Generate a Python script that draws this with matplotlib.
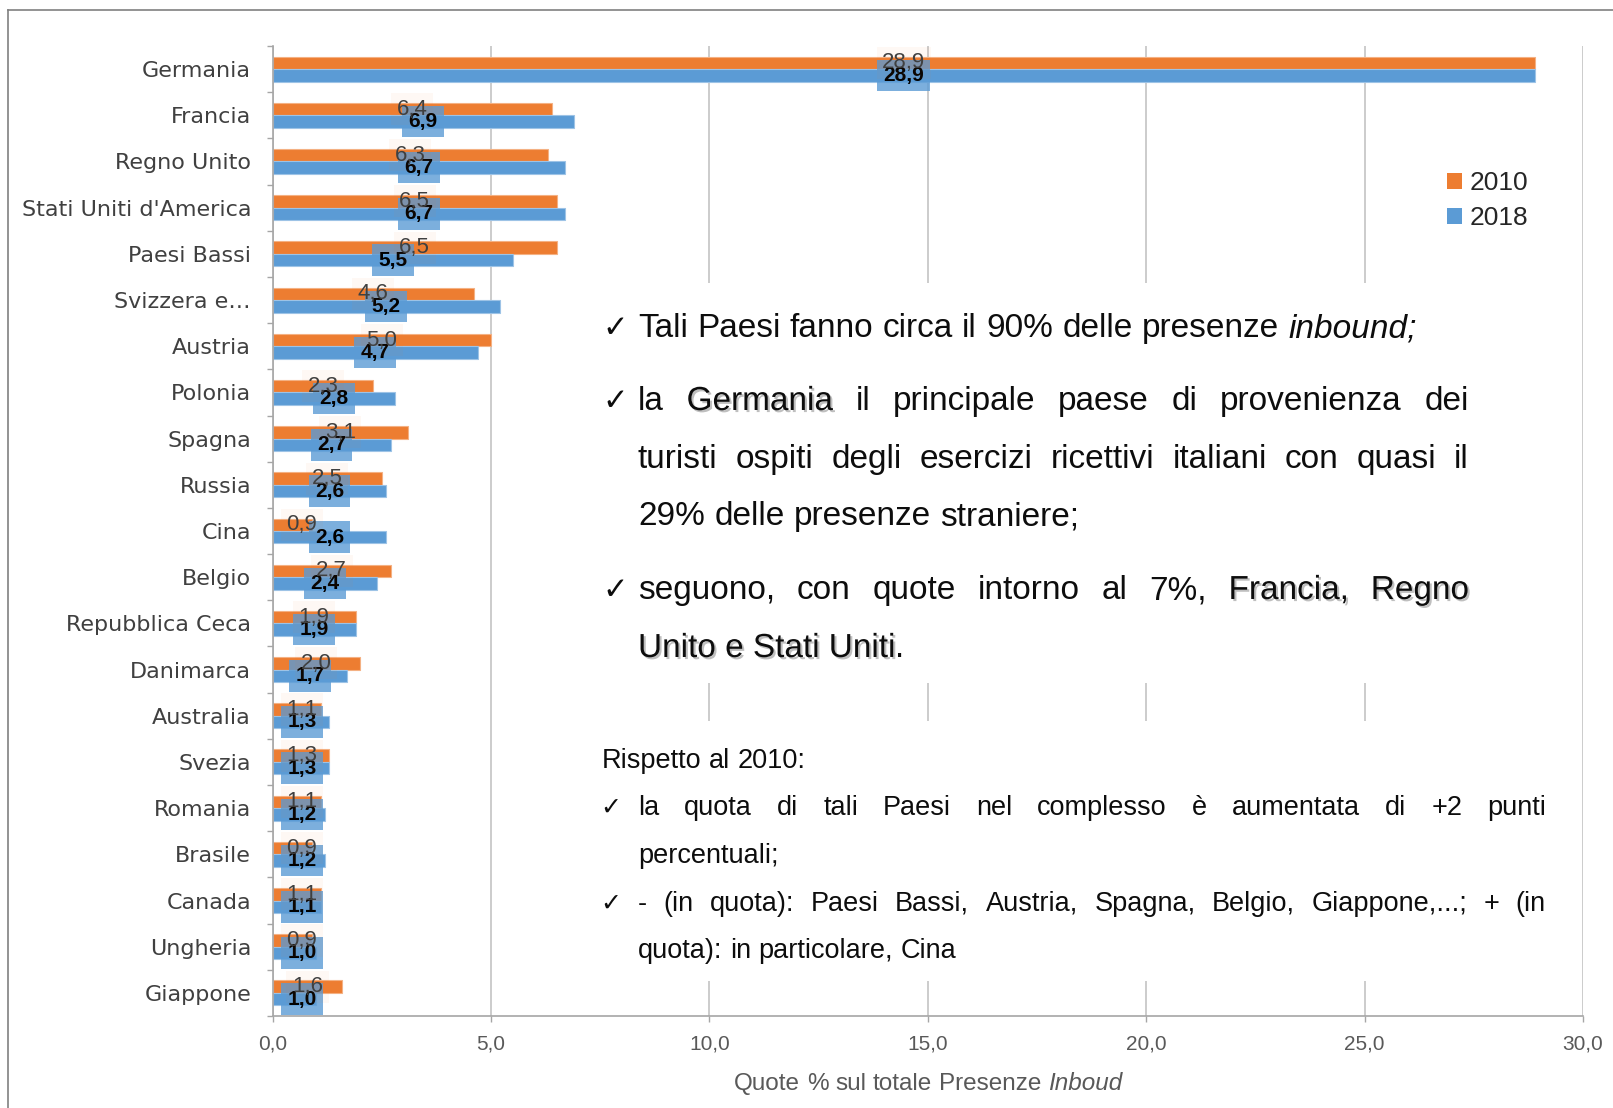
import matplotlib
matplotlib.use('Agg')
import matplotlib.pyplot as plt
import matplotlib.patheffects as pe
from matplotlib.patches import Rectangle
from matplotlib.lines import Line2D
import numpy as np

# data
countries = ['Germania', 'Francia', 'Regno Unito', "Stati Uniti d'America", 'Paesi Bassi',
             'Svizzera e…', 'Austria', 'Polonia', 'Spagna', 'Russia', 'Cina', 'Belgio',
             'Repubblica Ceca', 'Danimarca', 'Australia', 'Svezia', 'Romania', 'Brasile',
             'Canada', 'Ungheria', 'Giappone']
v2010 = [28.9, 6.4, 6.3, 6.5, 6.5, 4.6, 5.0, 2.3, 3.1, 2.5, 0.9, 2.7, 1.9, 2.0, 1.1, 1.3, 1.1, 0.9, 1.1, 0.9, 1.6]
v2018 = [28.9, 6.9, 6.7, 6.7, 5.5, 5.2, 4.7, 2.8, 2.7, 2.6, 2.6, 2.4, 1.9, 1.7, 1.3, 1.3, 1.2, 1.2, 1.1, 1.0, 1.0]
years = ['2010', '2018']
xticks = [0, 5, 10, 15, 20, 25, 30]
xlabel_runs = [('Quote % sul totale Presenze ', 'n'), ('Inboud', 'i')]

c2010 = '#ED7D31'
c2018 = '#5B9BD5'

W, H = 1613, 1108
fig = plt.figure(figsize=(W / 100, H / 100), dpi=100)
renderer = fig.canvas.get_renderer()


def px(x, y):
    return (x / W, 1 - y / H)


def fmt(v):
    return f'{v:.1f}'.replace('.', ',')


# ---- chart
ax = fig.add_axes([272.6 / W, 1 - 1016 / H, (1583 - 272.6) / W, (1016 - 46) / H])
y = np.arange(len(countries))
bh = 0.27
ax.barh(y - bh / 2, v2010, height=bh, color=c2010, edgecolor='#F4B183', linewidth=0.8, zorder=2)
ax.barh(y + bh / 2, v2018, height=bh, color=c2018, edgecolor='#9DC3E6', linewidth=0.8, zorder=2)

ax.set_xlim(0, 30)
ax.set_ylim(len(countries) - 0.5, -0.5)
ax.set_xticks(xticks)
ax.set_xticklabels([fmt(t) for t in xticks], family='Liberation Sans')
ax.set_yticks(y)
ax.set_yticklabels(countries, family='DejaVu Sans')
ax.set_yticks(np.arange(len(countries) + 1) - 0.5, minor=True)
ax.tick_params(axis='y', which='major', length=0, pad=15.5, labelsize=16, labelcolor='#404040')
ax.tick_params(axis='y', which='minor', length=4.5, color='#A6A6A6', width=1)
ax.tick_params(axis='x', length=4.5, color='#A6A6A6', width=1, pad=9, labelsize=15, labelcolor='#595959')
ax.grid(axis='x', color='#BFBFBF', linewidth=1.1)
ax.set_axisbelow(True)
for s in ['top', 'right']:
    ax.spines[s].set_visible(False)
for s in ['left', 'bottom']:
    ax.spines[s].set_color('#A6A6A6')
    ax.spines[s].set_linewidth(1.2)

# data labels (Excel keeps them inside the plot area)
xmin_lab = 0.67
for i, b in enumerate(v2018):
    ax.text(max(b / 2, xmin_lab), i + bh / 2, fmt(b), ha='center', va='center', fontsize=15,
            family='Liberation Sans', color='black', fontweight='bold', zorder=4,
            bbox=dict(boxstyle='square,pad=0.3', fc=c2018, alpha=0.8, ec='none'))
for i, a in enumerate(v2010):
    ax.text(max(a / 2, xmin_lab), i - bh / 2, fmt(a), ha='center', va='center', fontsize=16,
            family='Liberation Sans', color='#404040', zorder=5,
            bbox=dict(boxstyle='square,pad=0.25', fc=c2010, alpha=0.05, ec='none'))

# legend
handles = [Rectangle((0, 0), 1, 1, fc=c) for c in (c2010, c2018)]
fig.legend(handles, years, loc='upper left', bbox_to_anchor=px(1447, 171), frameon=False,
           handlelength=0.55, handleheight=0.55, handletextpad=0.3, labelspacing=0.42,
           borderpad=0, borderaxespad=0, prop={'family': 'Liberation Sans', 'size': 19},
           labelcolor='#262626')

# white text panels over the grid
fig.patches.append(Rectangle(px(600, 683), (1480 - 600) / W, (683 - 283) / H,
                             transform=fig.transFigure, fc='white', ec='none', zorder=1))
fig.patches.append(Rectangle(px(595, 981), (1565 - 595) / W, (981 - 721) / H,
                             transform=fig.transFigure, fc='white', ec='none', zorder=1))

# frame
fig.add_artist(Line2D([7.5 / W, 7.5 / W], [1 - 10 / H, 0], transform=fig.transFigure,
                      color='#808080', lw=1.2))
fig.add_artist(Line2D([7.5 / W, 1], [1 - 10 / H, 1 - 10 / H], transform=fig.transFigure,
                      color='#808080', lw=1.2))


def kw(style, size, color):
    d = dict(fontsize=size, color=color, family='Liberation Sans', ha='left', va='baseline', zorder=3)
    if style == 'i':
        d['style'] = 'italic'
    if style == 's':
        d['path_effects'] = [pe.withSimplePatchShadow(offset=(1.5, -1.5), shadow_rgbFace='#808080', alpha=0.5)]
    return d


def draw_line(runs, yb, size, x0=None, right=None, center=None, color='#0D0D0D'):
    words, cur = [], []
    for text, st in runs:
        parts = text.split(' ')
        for k, p in enumerate(parts):
            if k > 0 and cur:
                words.append(cur)
                cur = []
            if p:
                cur.append((p, st))
    if cur:
        words.append(cur)
    t1 = fig.text(0, 0, 'a a', **kw('n', size, color))
    t2 = fig.text(0, 0, 'aa', **kw('n', size, color))
    space = t1.get_window_extent(renderer).width - t2.get_window_extent(renderer).width
    t1.remove()
    t2.remove()
    arts, widths = [], []
    for w in words:
        row, tot = [], 0
        for p, st in w:
            t = fig.text(0, 0, p, **kw(st, size, color))
            wp = t.get_window_extent(renderer).width
            row.append((t, wp))
            tot += wp
        arts.append(row)
        widths.append(tot)
    gap = space
    if right is not None and len(words) > 1:
        gap = (right - x0 - sum(widths)) / (len(words) - 1)
    if center is not None:
        x0 = center - (sum(widths) + gap * (len(words) - 1)) / 2
    x = x0
    for row in arts:
        for t, wp in row:
            t.set_position(px(x, yb))
            x += wp
        x += gap


def check(x, yb, size):
    fig.text(*px(x, yb), '✓', fontsize=size, family='DejaVu Sans', color='#0D0D0D',
             ha='left', va='baseline', zorder=3)


# panel 1
s1, r1, x1 = 24, 1469, 638
draw_line([('Tali Paesi fanno circa il 90% delle presenze ', 'n'), ('inbound;', 'i')], 337, s1, x0=x1)
draw_line([('la ', 'n'), ('Germania', 's'), (' il principale paese di provenienza dei', 'n')], 410, s1, x0=x1, right=r1)
draw_line([('turisti ospiti degli esercizi ricettivi italiani con quasi il', 'n')], 468, s1, x0=x1, right=r1)
draw_line([('29% delle presenze straniere;', 'n')], 525, s1, x0=x1)
draw_line([('seguono, con quote intorno al 7%, ', 'n'), ('Francia, Regno', 's')], 599, s1, x0=x1, right=r1)
draw_line([('Unito e Stati Uniti', 's'), ('.', 'n')], 657, s1, x0=x1)
for yb in (337, 410, 599):
    check(602, yb, 22)

# panel 2
s2, r2 = 19.5, 1546
draw_line([('Rispetto al 2010:', 'n')], 768, s2, x0=602)
draw_line([('la quota di tali Paesi nel complesso è aumentata di +2 punti', 'n')], 815, s2, x0=x1, right=r2)
draw_line([('percentuali;', 'n')], 863, s2, x0=x1)
draw_line([('- (in quota): Paesi Bassi, Austria, Spagna, Belgio, Giappone,...; + (in', 'n')], 911, s2, x0=x1, right=r2)
draw_line([('quota): in particolare, Cina', 'n')], 958, s2, x0=x1)
for yb in (815, 911):
    check(600, yb, 18)

# x axis title
draw_line(xlabel_runs, 1090, 17.5, center=928, color='#595959')

fig.savefig('out.png', dpi=100)
